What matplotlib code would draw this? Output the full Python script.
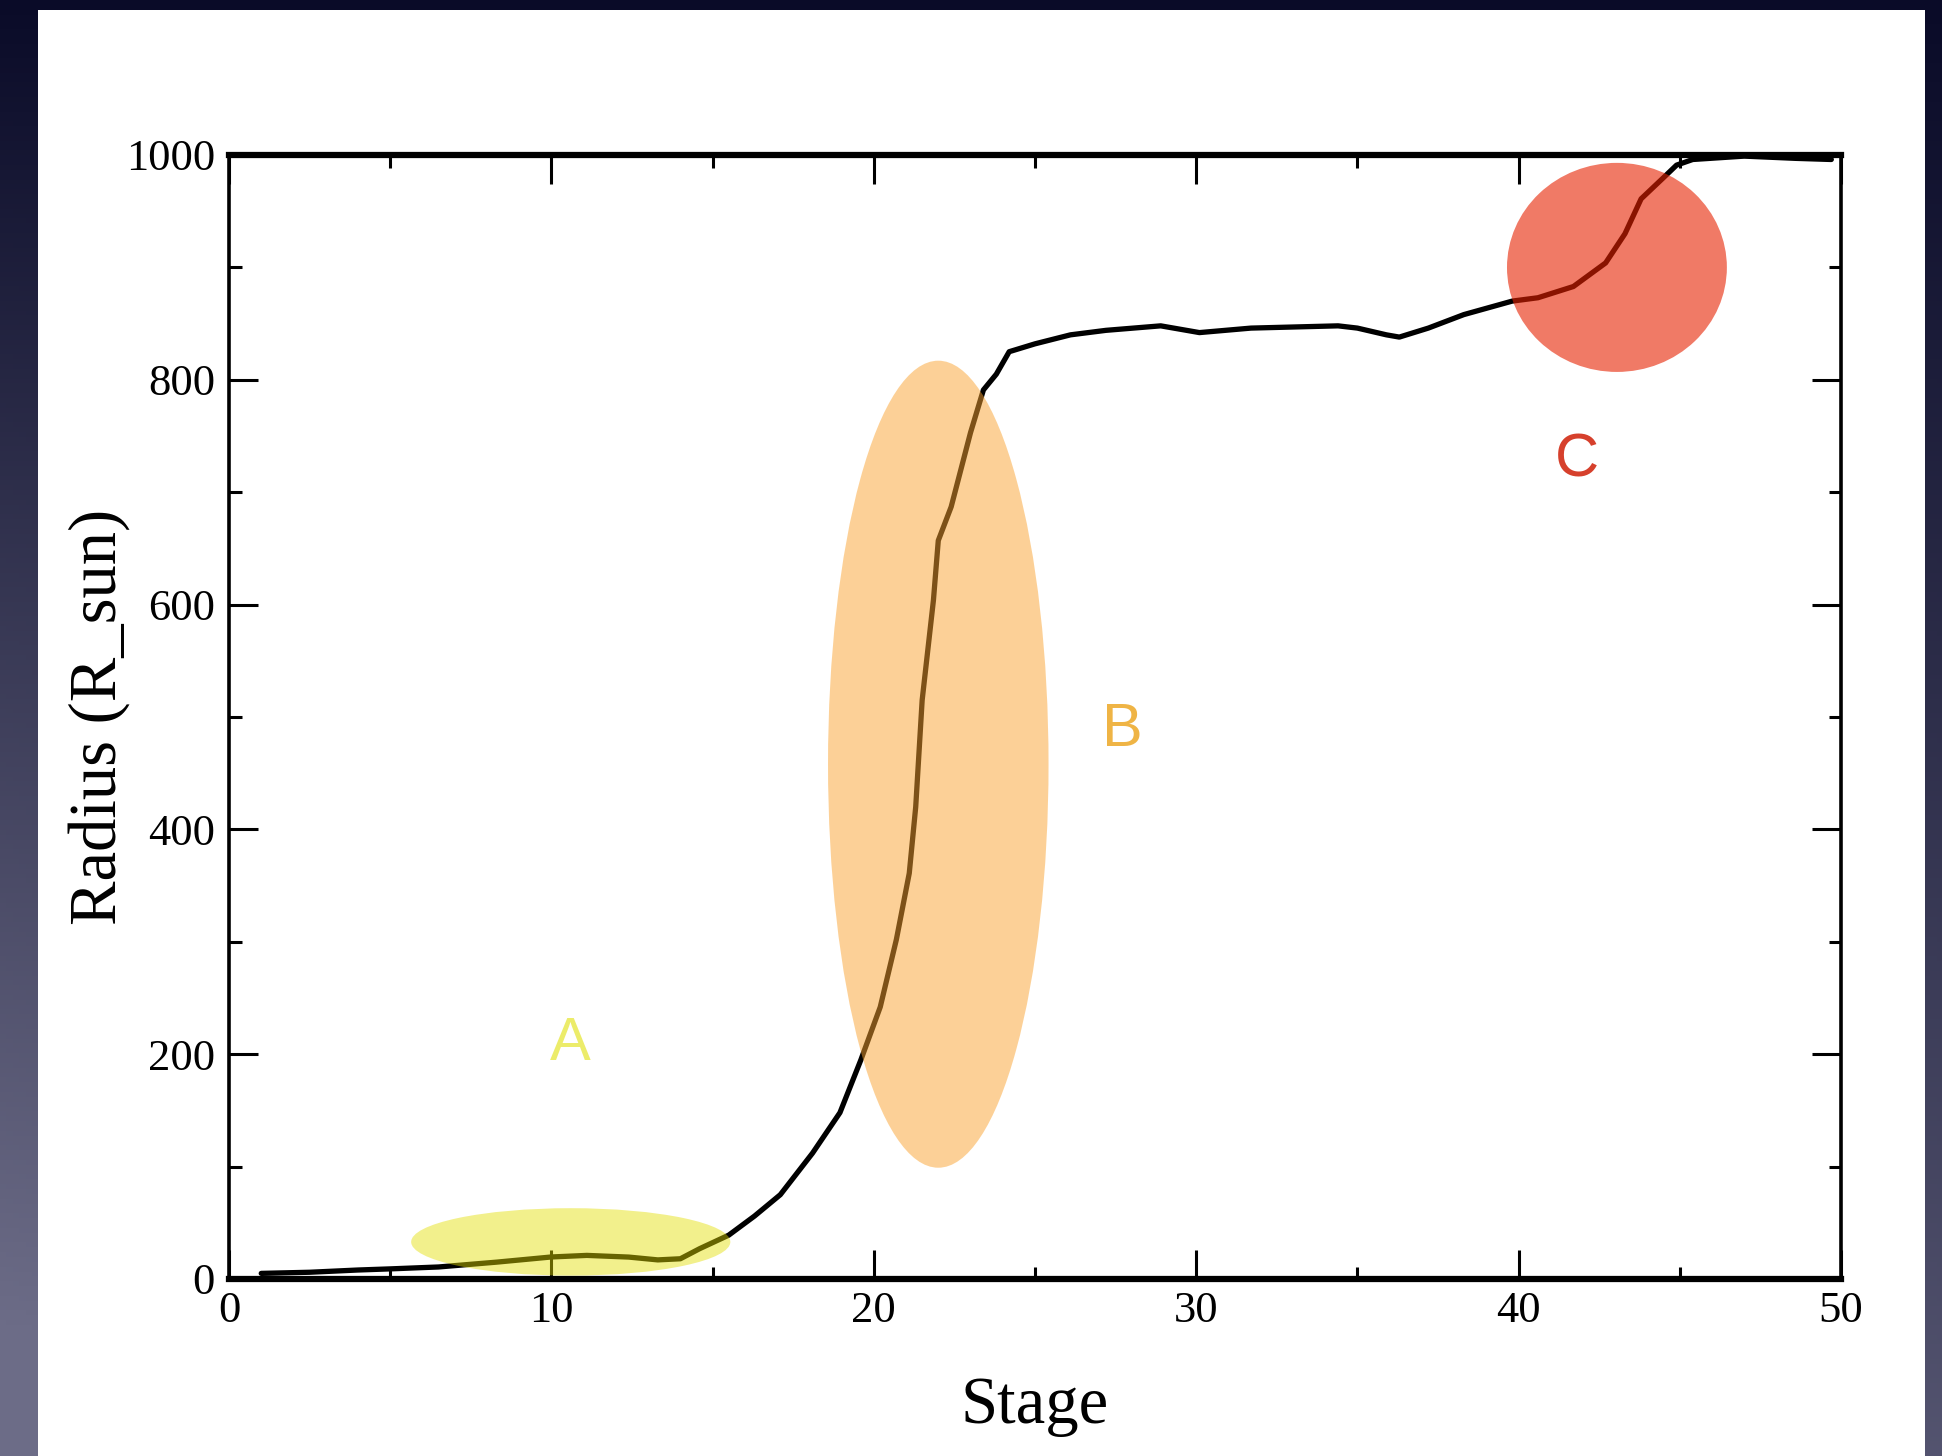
import numpy as np
import matplotlib
matplotlib.use("Agg")
import matplotlib.pyplot as plt
from matplotlib.patches import Ellipse, Rectangle

# radius evolution over the run
stage = [1.0, 2.5, 4.0, 5.0, 6.5, 8.3, 10.0, 11.1, 12.4, 13.3, 14.0, 14.6, 15.5,
         16.3, 17.1, 18.1, 18.95, 19.6, 20.2, 20.7, 21.1, 21.3, 21.5, 21.85, 22.0,
         22.4, 23.0, 23.4, 23.8, 24.2, 25.0, 26.1, 27.2, 28.9, 30.1, 31.7, 34.4,
         35.0, 35.9, 36.3, 37.2, 38.3, 39.8, 40.6, 41.7, 42.7, 43.3, 43.8, 44.5,
         44.9, 45.4, 47.0, 48.6, 49.7]
radius = [5, 6, 8, 9, 10.7, 15, 19.6, 21, 19.5, 17, 18, 27, 39,
          56, 75, 112, 148, 195, 242, 302, 361, 420, 515, 604, 657,
          687, 753, 791, 805, 825, 832, 840, 844, 848, 842, 846, 848,
          846, 840, 838, 846, 858, 870, 873, 883, 904, 930, 961, 980,
          991, 996, 999, 997, 996]

# highlighted phases: (label, centre stage, centre radius, width, height)
phases = ["A", "B", "C"]
phase_x = [10.6, 22.0, 43.05]
phase_y = [33, 458, 900]
phase_w = [9.9, 6.84, 6.82]
phase_h = [60, 718, 186]
phase_fill = [(0.89, 0.87, 0.0), (0.98, 0.64, 0.19), (0.90, 0.13, 0.0)]
phase_alpha = [0.45, 0.5, 0.6]
label_x = [10.6, 27.7, 41.8]
label_y = [209, 488, 728]
label_color = ["#ecec6a", "#efb445", "#d6402c"]

W, H = 1942, 1456
fig = plt.figure(figsize=(W / 100, H / 100), dpi=100)

# slide background
bg = fig.add_axes([0, 0, 1, 1])
bg.set_axis_off()
yy, xx = np.mgrid[0:1:300j, 0:1:300j]
t = np.clip(0.75 * yy + 0.35 * (1 - xx) * yy, 0, 1)
top = np.array([10, 11, 40]) / 255
bottom = np.array([108, 108, 135]) / 255
grad = top[None, None, :] * (1 - t[..., None]) + bottom[None, None, :] * t[..., None]
bg.imshow(grad, aspect="auto", extent=[0, 1, 0, 1], origin="upper")
bg.add_patch(Rectangle((38 / W, 0), (1925 - 38) / W, 1 - 10 / H,
                       facecolor="white", edgecolor="none"))
bg.set_xlim(0, 1)
bg.set_ylim(0, 1)

ax = fig.add_axes([229 / W, 1 - 1279 / H, (1841 - 229) / W, (1279 - 155) / H])
ax.set_facecolor("none")
ax.plot(stage, radius, color="black", lw=3.8, solid_joinstyle="round",
        solid_capstyle="round", zorder=2)

for i in range(len(phases)):
    ax.add_patch(Ellipse((phase_x[i], phase_y[i]), phase_w[i], phase_h[i],
                         facecolor=phase_fill[i], alpha=phase_alpha[i],
                         edgecolor="none", zorder=3))
    ax.text(label_x[i], label_y[i], phases[i], color=label_color[i],
            fontsize=44, family="Liberation Sans", ha="center", va="center")

ax.set_xlim(0, 50)
ax.set_ylim(0, 1000)
ax.set_xticks(range(0, 51, 10))
ax.set_xticks(range(5, 50, 10), minor=True)
ax.set_yticks(range(0, 1001, 200))
ax.set_yticks(range(100, 1000, 200), minor=True)
ax.tick_params(which="both", direction="in", top=True, right=True, width=2.2,
               labelsize=32, colors="black")
ax.tick_params(which="major", length=21)
ax.tick_params(which="minor", length=9)
ax.tick_params(axis="x", pad=9)
ax.tick_params(axis="y", pad=10)
for lab in ax.get_xticklabels() + ax.get_yticklabels():
    lab.set_family("Liberation Serif")
for side in ["left", "right"]:
    ax.spines[side].set_linewidth(2.6)
for side in ["top", "bottom"]:
    ax.spines[side].set_linewidth(4.5)

ax.set_xlabel("Stage", fontsize=48, family="Liberation Serif", labelpad=32)
ax.set_ylabel("Radius (R_sun)", fontsize=48, family="Liberation Serif", labelpad=-3)

fig.savefig("out.png", dpi=100)
